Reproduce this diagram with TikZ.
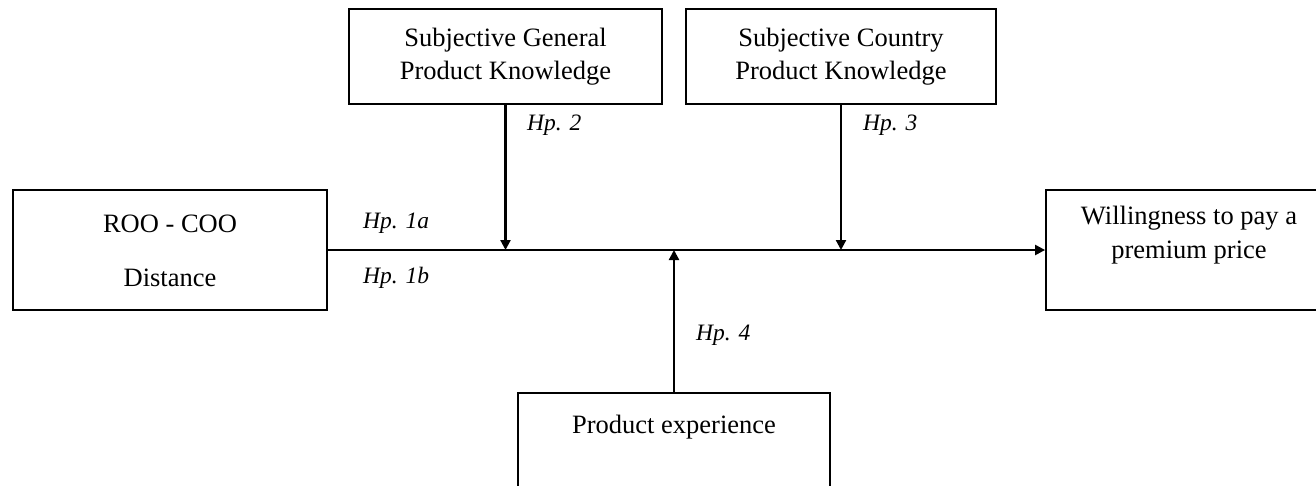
\documentclass[tikz,border=0pt]{standalone}
\usepackage{fontspec}
\setmainfont{Liberation Serif}
\usetikzlibrary{arrows.meta}
\tikzset{
  box/.style={draw=black, line width=1.8pt, rectangle, inner sep=0pt},
  txt/.style={inner sep=0pt, font=\fontsize{26.5}{32}\selectfont},
  hp/.style={inner sep=0pt, font=\fontsize{23.5}{28}\selectfont\itshape},
  conn/.style={draw=black, line width=2.2pt, -{Triangle[length=10pt,width=10pt]}},
}
\begin{document}
\begin{tikzpicture}[x=1pt,y=-1pt]
\useasboundingbox (0,0) rectangle (1316,485);
% boxes
\node[box, minimum width=314pt, minimum height=120pt] (roo) at (170,250) {};
\node[box, minimum width=313pt, minimum height=95pt] (gen) at (505.5,56.5) {};
\node[box, minimum width=310pt, minimum height=95pt] (cty) at (841,56.5) {};
\node[box, minimum width=286pt, minimum height=120pt] (wtp) at (1189,250) {};
\node[box, minimum width=312pt, minimum height=102pt] (pe) at (674,444) {};
% texts
\node[txt] (roo1) at (170,224) {ROO - COO};
\node[txt] (roo2) at (170,278) {Distance};
\node[txt] (gen1) at (505.5,40) {Subjective General};
\node[txt] (gen2) at (505.5,73) {Product Knowledge};
\node[txt] (cty1) at (841,40) {Subjective Country};
\node[txt] (cty2) at (841,73) {Product Knowledge};
\node[txt] (wtp1) at (1189,218) {Willingness to pay a};
\node[txt] (wtp2) at (1189,253) {premium price};
\node[txt] (pe1) at (674,427) {Product experience};
% hypothesis labels
\node[hp, anchor=west] (h1a) at (363,223) {Hp. 1a};
\node[hp, anchor=west] (h1b) at (363,278) {Hp. 1b};
\node[hp, anchor=west] (h2) at (527,125) {Hp. 2};
\node[hp, anchor=west] (h3) at (863,125) {Hp. 3};
\node[hp, anchor=west] (h4) at (696,335) {Hp. 4};
% connectors
\draw[conn] (roo.east) -- (wtp.west);
\draw[conn] (gen.south) -- (gen.south |- roo.east);
\draw[conn] (cty.south) -- (cty.south |- roo.east);
\draw[conn] (pe.north) -- (pe.north |- roo.east);
\end{tikzpicture}
\end{document}
